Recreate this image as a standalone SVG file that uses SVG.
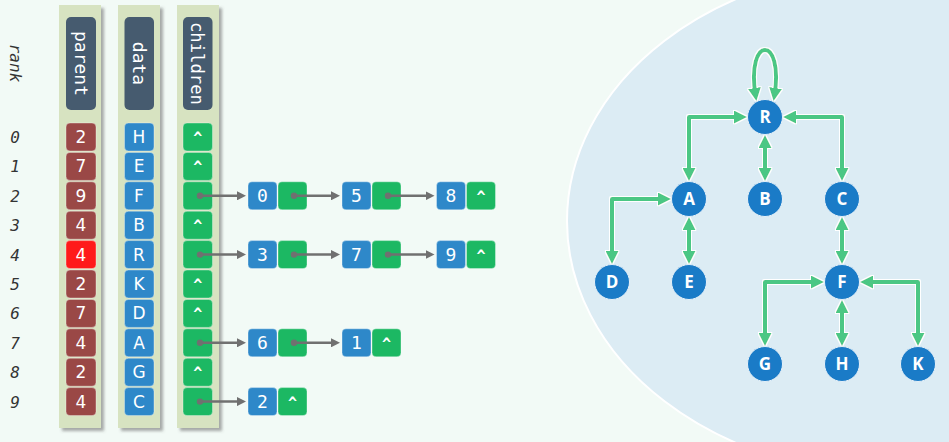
<svg xmlns="http://www.w3.org/2000/svg" width="949" height="442" viewBox="0 0 949 442">
<style>
.col{fill:#d7e3c1}
.hdr{fill:#465b6f}
.htx{font-family:"DejaVu Sans Mono",monospace;font-size:18px;fill:#fff}
.cell{stroke:#ffffff;stroke-opacity:0.35;stroke-width:1}
.par{fill:#9a4846}
.red{fill:#ff1a1a}
.dat{fill:#2e88c9}
.chi{fill:#1cb863}
.ctx{font-family:"DejaVu Sans","Open Sans",sans-serif;font-size:17px;fill:#fff;text-anchor:middle}
.mtx{font-family:"DejaVu Sans Mono",monospace;font-size:18px;fill:#fff;text-anchor:middle}
.car{font-family:"DejaVu Sans Mono",monospace;font-size:15px;fill:#fff;text-anchor:middle;font-weight:bold}
.rk{font-family:"DejaVu Sans Mono",monospace;font-style:italic;font-size:16px;fill:#333;text-anchor:middle}
.ptr{stroke:#707070;stroke-width:2.5;fill:none}
.dot{fill:#707070}
.edge{stroke:#4cc784;stroke-width:4;fill:none;stroke-linejoin:round}
.tn{fill:#1a7bc7;stroke:#e6f1f9;stroke-width:1}
.ttx{font-family:"Open Sans","DejaVu Sans",sans-serif;font-weight:bold;font-size:17px;fill:#fff;text-anchor:middle}
</style>
<defs>
<filter id="sh" x="-20%" y="-5%" width="150%" height="115%">
<feDropShadow dx="3" dy="3" stdDeviation="1.8" flood-color="#666" flood-opacity="0.55"/>
</filter>
<filter id="glow" x="-10%" y="-10%" width="120%" height="120%">
<feMorphology in="SourceAlpha" operator="dilate" radius="1.2" result="d"/>
<feFlood flood-color="#ffffff"/>
<feComposite in2="d" operator="in" result="w"/>
<feMerge><feMergeNode in="w"/><feMergeNode in="SourceGraphic"/></feMerge>
</filter>
<marker id="ga" viewBox="0 0 13 13" markerUnits="userSpaceOnUse" markerWidth="13" markerHeight="13" refX="7" refY="6.5" orient="auto-start-reverse">
<path d="M0,0 L13,6.5 L0,13 z" fill="#4cc784"/>
</marker>
<marker id="pa" viewBox="0 0 9 9" markerUnits="userSpaceOnUse" markerWidth="9" markerHeight="9" refX="5" refY="4.5" orient="auto">
<path d="M0,0 L9,4.5 L0,9 z" fill="#707070"/>
</marker>
</defs>
<rect x="0" y="0" width="949" height="442" fill="#f2faf6"/>
<ellipse cx="900" cy="221" rx="333" ry="255" fill="#dcecf4" stroke="#ffffff" stroke-width="2"/>

<g id="rank">
<text class="rk" transform="translate(15,63) rotate(90)" dominant-baseline="central">rank</text>
<text class="rk" x="15" y="143">0</text>
<text class="rk" x="15" y="172.4">1</text>
<text class="rk" x="15" y="201.8">2</text>
<text class="rk" x="15" y="231.2">3</text>
<text class="rk" x="15" y="260.6">4</text>
<text class="rk" x="15" y="290">5</text>
<text class="rk" x="15" y="319.4">6</text>
<text class="rk" x="15" y="348.8">7</text>
<text class="rk" x="15" y="378.2">8</text>
<text class="rk" x="15" y="407.6">9</text>
</g>

<g id="col-parent">
<rect class="col" x="59" y="5" width="42" height="423" filter="url(#sh)"/>
<rect class="hdr" x="66" y="17" width="30" height="93" rx="5"/>
<text class="htx" transform="translate(81,63.5) rotate(90)" text-anchor="middle" dominant-baseline="central">parent</text>
<rect class="cell par" x="66" y="123" width="30" height="28" rx="4"/><text class="ctx" x="81" y="143">2</text>
<rect class="cell par" x="66" y="152.4" width="30" height="28" rx="4"/><text class="ctx" x="81" y="172.4">7</text>
<rect class="cell par" x="66" y="181.8" width="30" height="28" rx="4"/><text class="ctx" x="81" y="201.8">9</text>
<rect class="cell par" x="66" y="211.2" width="30" height="28" rx="4"/><text class="ctx" x="81" y="231.2">4</text>
<rect class="cell red" x="66" y="240.6" width="30" height="28" rx="4"/><text class="ctx" x="81" y="260.6">4</text>
<rect class="cell par" x="66" y="270" width="30" height="28" rx="4"/><text class="ctx" x="81" y="290">2</text>
<rect class="cell par" x="66" y="299.4" width="30" height="28" rx="4"/><text class="ctx" x="81" y="319.4">7</text>
<rect class="cell par" x="66" y="328.8" width="30" height="28" rx="4"/><text class="ctx" x="81" y="348.8">4</text>
<rect class="cell par" x="66" y="358.2" width="30" height="28" rx="4"/><text class="ctx" x="81" y="378.2">2</text>
<rect class="cell par" x="66" y="387.6" width="30" height="28" rx="4"/><text class="ctx" x="81" y="407.6">4</text>
</g>

<g id="col-data">
<rect class="col" x="118" y="5" width="42" height="423" filter="url(#sh)"/>
<rect class="hdr" x="124.5" y="17" width="29.5" height="93" rx="5"/>
<text class="htx" transform="translate(139,63.5) rotate(90)" text-anchor="middle" dominant-baseline="central">data</text>
<rect class="cell dat" x="124.5" y="123" width="29.5" height="28" rx="4"/><text class="ctx" x="139" y="143">H</text>
<rect class="cell dat" x="124.5" y="152.4" width="29.5" height="28" rx="4"/><text class="ctx" x="139" y="172.4">E</text>
<rect class="cell dat" x="124.5" y="181.8" width="29.5" height="28" rx="4"/><text class="ctx" x="139" y="201.8">F</text>
<rect class="cell dat" x="124.5" y="211.2" width="29.5" height="28" rx="4"/><text class="ctx" x="139" y="231.2">B</text>
<rect class="cell dat" x="124.5" y="240.6" width="29.5" height="28" rx="4"/><text class="ctx" x="139" y="260.6">R</text>
<rect class="cell dat" x="124.5" y="270" width="29.5" height="28" rx="4"/><text class="ctx" x="139" y="290">K</text>
<rect class="cell dat" x="124.5" y="299.4" width="29.5" height="28" rx="4"/><text class="ctx" x="139" y="319.4">D</text>
<rect class="cell dat" x="124.5" y="328.8" width="29.5" height="28" rx="4"/><text class="ctx" x="139" y="348.8">A</text>
<rect class="cell dat" x="124.5" y="358.2" width="29.5" height="28" rx="4"/><text class="ctx" x="139" y="378.2">G</text>
<rect class="cell dat" x="124.5" y="387.6" width="29.5" height="28" rx="4"/><text class="ctx" x="139" y="407.6">C</text>
</g>

<g id="col-children">
<rect class="col" x="177" y="5" width="42" height="423" filter="url(#sh)"/>
<rect class="hdr" x="183" y="17" width="29.5" height="93" rx="5"/>
<text class="htx" transform="translate(197.7,63.5) rotate(90)" text-anchor="middle" dominant-baseline="central" textLength="83" lengthAdjust="spacingAndGlyphs">children</text>
<rect class="cell chi" x="183" y="123" width="29.5" height="28" rx="4"/><text class="car" x="197.7" y="143">^</text>
<rect class="cell chi" x="183" y="152.4" width="29.5" height="28" rx="4"/><text class="car" x="197.7" y="172.4">^</text>
<rect class="cell chi" x="183" y="181.8" width="29.5" height="28" rx="4"/>
<rect class="cell chi" x="183" y="211.2" width="29.5" height="28" rx="4"/><text class="car" x="197.7" y="231.2">^</text>
<rect class="cell chi" x="183" y="240.6" width="29.5" height="28" rx="4"/>
<rect class="cell chi" x="183" y="270" width="29.5" height="28" rx="4"/><text class="car" x="197.7" y="290">^</text>
<rect class="cell chi" x="183" y="299.4" width="29.5" height="28" rx="4"/><text class="car" x="197.7" y="319.4">^</text>
<rect class="cell chi" x="183" y="328.8" width="29.5" height="28" rx="4"/>
<rect class="cell chi" x="183" y="358.2" width="29.5" height="28" rx="4"/><text class="car" x="197.7" y="378.2">^</text>
<rect class="cell chi" x="183" y="387.6" width="29.5" height="28" rx="4"/>
</g>

<g id="list-nodes">
<g id="ln-2-0"><rect class="cell dat" x="248" y="181.8" width="29" height="28" rx="4"/><text class="mtx" x="262.5" y="202.3">0</text><rect class="cell chi" x="278" y="181.8" width="29" height="28" rx="4"/></g>
<g id="ln-2-5"><rect class="cell dat" x="342" y="181.8" width="29" height="28" rx="4"/><text class="mtx" x="356.5" y="202.3">5</text><rect class="cell chi" x="372" y="181.8" width="29" height="28" rx="4"/></g>
<g id="ln-2-8"><rect class="cell dat" x="436.5" y="181.8" width="29" height="28" rx="4"/><text class="mtx" x="451" y="202.3">8</text><rect class="cell chi" x="466.5" y="181.8" width="29" height="28" rx="4"/><text class="car" x="481" y="201.8">^</text></g>
<g id="ln-4-3"><rect class="cell dat" x="248" y="240.6" width="29" height="28" rx="4"/><text class="mtx" x="262.5" y="261.1">3</text><rect class="cell chi" x="278" y="240.6" width="29" height="28" rx="4"/></g>
<g id="ln-4-7"><rect class="cell dat" x="342" y="240.6" width="29" height="28" rx="4"/><text class="mtx" x="356.5" y="261.1">7</text><rect class="cell chi" x="372" y="240.6" width="29" height="28" rx="4"/></g>
<g id="ln-4-9"><rect class="cell dat" x="436.5" y="240.6" width="29" height="28" rx="4"/><text class="mtx" x="451" y="261.1">9</text><rect class="cell chi" x="466.5" y="240.6" width="29" height="28" rx="4"/><text class="car" x="481" y="260.6">^</text></g>
<g id="ln-7-6"><rect class="cell dat" x="248" y="328.8" width="29" height="28" rx="4"/><text class="mtx" x="262.5" y="349.3">6</text><rect class="cell chi" x="278" y="328.8" width="29" height="28" rx="4"/></g>
<g id="ln-7-1"><rect class="cell dat" x="342" y="328.8" width="29" height="28" rx="4"/><text class="mtx" x="356.5" y="349.3">1</text><rect class="cell chi" x="372" y="328.8" width="29" height="28" rx="4"/><text class="car" x="386.5" y="348.8">^</text></g>
<g id="ln-9-2"><rect class="cell dat" x="248" y="387.6" width="29" height="28" rx="4"/><text class="mtx" x="262.5" y="408.1">2</text><rect class="cell chi" x="278" y="387.6" width="29" height="28" rx="4"/><text class="car" x="292.5" y="407.6">^</text></g>
</g>

<g id="list-pointers">
<path class="ptr" d="M200,195.8 H242" marker-end="url(#pa)"/><circle class="dot" cx="200" cy="195.8" r="3.2"/>
<path class="ptr" d="M294,195.8 H336" marker-end="url(#pa)"/><circle class="dot" cx="294" cy="195.8" r="3.2"/>
<path class="ptr" d="M388,195.8 H430.5" marker-end="url(#pa)"/><circle class="dot" cx="388" cy="195.8" r="3.2"/>
<path class="ptr" d="M200,254.6 H242" marker-end="url(#pa)"/><circle class="dot" cx="200" cy="254.6" r="3.2"/>
<path class="ptr" d="M294,254.6 H336" marker-end="url(#pa)"/><circle class="dot" cx="294" cy="254.6" r="3.2"/>
<path class="ptr" d="M388,254.6 H430.5" marker-end="url(#pa)"/><circle class="dot" cx="388" cy="254.6" r="3.2"/>
<path class="ptr" d="M200,342.8 H242" marker-end="url(#pa)"/><circle class="dot" cx="200" cy="342.8" r="3.2"/>
<path class="ptr" d="M294,342.8 H336" marker-end="url(#pa)"/><circle class="dot" cx="294" cy="342.8" r="3.2"/>
<path class="ptr" d="M200,401.6 H242" marker-end="url(#pa)"/><circle class="dot" cx="200" cy="401.6" r="3.2"/>
</g>

<g id="tree-edges" filter="url(#glow)">
<path class="edge" d="M741,117 H689 V175" marker-start="url(#ga)" marker-end="url(#ga)"/>
<path class="edge" d="M765,141 V175" marker-start="url(#ga)" marker-end="url(#ga)"/>
<path class="edge" d="M789,117 H842 V175" marker-start="url(#ga)" marker-end="url(#ga)"/>
<path class="edge" d="M665,199 H612 V258" marker-start="url(#ga)" marker-end="url(#ga)"/>
<path class="edge" d="M689,223 V258" marker-start="url(#ga)" marker-end="url(#ga)"/>
<path class="edge" d="M842,223 V258" marker-start="url(#ga)" marker-end="url(#ga)"/>
<path class="edge" d="M818,282 H765 V340" marker-start="url(#ga)" marker-end="url(#ga)"/>
<path class="edge" d="M842,306 V340" marker-start="url(#ga)" marker-end="url(#ga)"/>
<path class="edge" d="M866,282 H918 V340" marker-start="url(#ga)" marker-end="url(#ga)"/>
<path class="edge" d="M755.5,95 C746,35 784,35 774.5,95" marker-start="url(#ga)" marker-end="url(#ga)"/>
</g>

<g id="node-R"><circle class="tn" cx="765" cy="117" r="17.5"/><text class="ttx" x="765" y="123">R</text></g>
<g id="node-A"><circle class="tn" cx="689" cy="199" r="17.5"/><text class="ttx" x="689" y="205">A</text></g>
<g id="node-B"><circle class="tn" cx="765" cy="199" r="17.5"/><text class="ttx" x="765" y="205">B</text></g>
<g id="node-C"><circle class="tn" cx="842" cy="199" r="17.5"/><text class="ttx" x="842" y="205">C</text></g>
<g id="node-D"><circle class="tn" cx="612" cy="282" r="17.5"/><text class="ttx" x="612" y="288">D</text></g>
<g id="node-E"><circle class="tn" cx="689" cy="282" r="17.5"/><text class="ttx" x="689" y="288">E</text></g>
<g id="node-F"><circle class="tn" cx="842" cy="282" r="17.5"/><text class="ttx" x="842" y="288">F</text></g>
<g id="node-G"><circle class="tn" cx="765" cy="364" r="17.5"/><text class="ttx" x="765" y="370">G</text></g>
<g id="node-H"><circle class="tn" cx="842" cy="364" r="17.5"/><text class="ttx" x="842" y="370">H</text></g>
<g id="node-K"><circle class="tn" cx="918" cy="364" r="17.5"/><text class="ttx" x="918" y="370">K</text></g>
</svg>
